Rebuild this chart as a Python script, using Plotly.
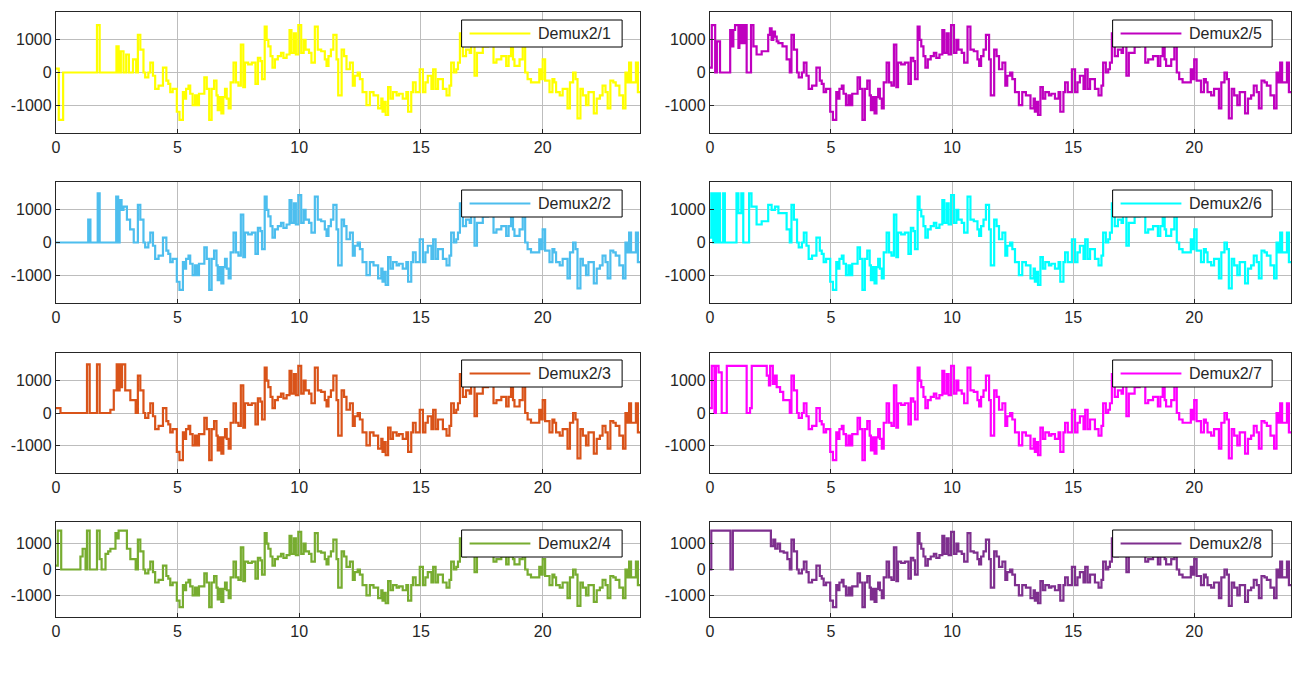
import plotly.graph_objects as go

# ---------------- data ----------------
NAMES = ["Demux2/1", "Demux2/2", "Demux2/3", "Demux2/4",
         "Demux2/5", "Demux2/6", "Demux2/7", "Demux2/8"]
COLORS = ["#FFFF00", "#4DBEEE", "#D95319", "#77AC30",
          "#BF00BF", "#00FFFF", "#FF00FF", "#7E2F8E"]

# start-up segments (differ per channel), change-point times and values
HEAD_T = [
    [0, 0.12, 0.30, 1.69, 1.80, 2.49, 2.58, 2.67, 2.78, 2.89, 3.00, 3.17, 3.30],
    [0, 1.33, 1.42, 1.72, 1.80, 2.48, 2.56, 2.62, 2.70, 2.78, 2.92, 3.05, 3.20],
    [0, 0.19, 1.28, 1.39, 1.69, 1.80, 2.24, 2.38, 2.50, 2.56, 2.62, 2.68, 2.72, 2.85, 3.06, 3.28],
    [0, 0.08, 0.22, 1.01, 1.10, 1.22, 1.28, 1.39, 1.69, 1.80, 1.88, 2.04, 2.15, 2.24, 2.45, 2.52, 2.58, 2.92, 3.06, 3.28],
    [0, 0.08, 0.22, 0.29, 0.42, 0.84, 0.90, 0.97, 1.04, 1.18, 1.22, 1.28, 1.32, 1.38, 1.45, 1.52, 1.70, 1.80, 1.93, 2.14, 2.41, 2.48, 2.55, 2.62, 2.69, 2.76, 2.83, 3.00, 3.17, 3.30],
    [0, 0.06, 0.14, 0.20, 0.28, 0.34, 0.42, 0.55, 0.62, 1.10, 1.18, 1.30, 1.38, 1.62, 1.72, 1.93, 2.14, 2.41, 2.55, 2.69, 2.83, 3.17, 3.30],
    [0, 0.08, 0.19, 0.25, 0.36, 0.49, 0.70, 1.52, 1.66, 1.73, 2.35, 2.44, 2.49, 2.60, 2.68, 2.76, 2.90, 3.03, 3.30],
    [0, 0.06, 0.85, 0.95, 2.52, 2.62, 2.70, 2.80, 2.90, 3.05, 3.20, 3.30],
]
HEAD_V = [
    [120, -1450, 0, 1450, 0, 800, 0, 650, 0, 550, 0, 400, 0],
    [0, 700, 0, 1500, 0, 1400, 0, 1300, 1000, 1100, 700, 400, 0],
    [150, 0, 1500, 0, 1500, 0, 100, 700, 1500, 700, 1500, 800, 1500, 700, 400, 0],
    [150, 1500, 0, 500, 800, 0, 1500, 0, 1500, 400, 0, 600, 700, 800, 1400, 1200, 1500, 800, 400, 0],
    [150, 1450, 0, 950, 0, 1300, 800, 1300, 1450, 750, 1450, 900, 1450, 900, 1450, 0, 1450, 800, 550, 650, 1150, 1350, 1000, 1250, 1100, 950, 900, 800, 400, 0],
    [150, 1500, 0, 1500, 0, 1500, 0, 1500, 0, 1500, 900, 1500, 0, 1500, 1100, 550, 650, 1150, 1000, 1100, 900, 400, 0],
    [150, 1450, 0, 1450, 1250, 0, 1450, 0, 150, 1450, 1150, 850, 1450, 900, 1150, 800, 650, 400, 0],
    [0, 1500, 0, 1500, 900, 1150, 800, 1000, 700, 650, 400, 0],
]

# common part of all channels (change-point times and values)
TAIL_T = [3.37, 3.47, 3.60, 3.67, 3.80, 3.88, 3.99, 4.08, 4.22, 4.40, 4.54, 4.62, 4.70, 4.80,
          4.97, 5.08, 5.22, 5.30, 5.35, 5.45, 5.52, 5.62, 5.72, 5.80, 5.88, 6.10, 6.20, 6.30,
          6.40, 6.50, 6.60, 6.65, 6.72, 6.80, 6.88, 6.95, 7.02, 7.10, 7.18, 7.30, 7.40, 7.50,
          7.60, 7.70, 7.77, 7.90, 8.05, 8.20, 8.30, 8.40, 8.47, 8.58, 8.66, 8.73, 8.82, 8.90,
          9.00, 9.12, 9.25, 9.35, 9.48, 9.60, 9.68, 9.78, 9.86, 9.96, 10.08, 10.18, 10.26,
          10.40, 10.50, 10.64, 10.76, 10.90, 11.05, 11.12, 11.20, 11.30, 11.40, 11.53, 11.60,
          11.74, 11.84, 11.94, 12.08, 12.20, 12.28, 12.40, 12.49, 12.60, 12.76, 12.90, 13.05,
          13.24, 13.37, 13.42, 13.50, 13.55, 13.65, 13.75, 13.85, 14.00, 14.10, 14.25, 14.40,
          14.47, 14.60, 14.67, 14.78, 14.95, 15.08, 15.18, 15.28, 15.43, 15.50, 15.60, 15.70,
          15.90, 16.05, 16.17, 16.24, 16.35, 16.45, 16.52, 16.60, 16.72, 16.85, 17.00, 17.06,
          17.20, 17.30, 17.54, 17.62, 17.75, 17.88, 17.98, 18.10, 18.30, 18.50, 18.60, 18.70,
          18.78, 18.84, 19.05, 19.18, 19.28, 19.38, 19.52, 19.86, 19.95, 20.00, 20.10, 20.28,
          20.40, 20.48, 20.55, 20.70, 20.82, 21.02, 21.12, 21.25, 21.35, 21.43, 21.55, 21.65,
          21.78, 21.88, 22.10, 22.22, 22.35, 22.46, 22.58, 22.67, 22.78, 22.90, 23.00, 23.15,
          23.30, 23.40, 23.48, 23.55, 23.63, 23.83, 23.91, 24.00]
TAIL_V = [1150, 700, 0, -150, 0, 300, -100, -500, -400, 150, -250, -350, -600, -500,
          -1200, -1450, -600, -800, -500, -400, -650, -1000, -700, -1000, -650, -150, -500, -1450,
          -500, -250, -700, -1150, -750, -1250, -750, -500, -800, -1100, -300, 300, -300, -400,
          850, -450, 300, 250, 300, -350, 450, 350, -200, 1400, 1000, 800, 500, 150,
          400, 500, 600, 450, 550, 1300, 600, 1200, 550, 1450, 600, 1000, 700,
          600, 300, 1400, 700, 650, 400, 200, 500, 700, 1150, 400, -700,
          700, 500, 100, 300, -400, -100, 0, -200, -600, -1000, -600, -700,
          -1100, -800, -1200, -900, -1300, -450, -800, -600, -700, -650, -800, -600,
          -1200, -600, -300, -600, 100, -600, -300, -100, -500, 100, -500, -200,
          -500, -700, -400, 300, 0, 100, 300, 1200, 500, 700, 600, 1200,
          -100, 600, 1000, 800, 1100, 900, 300, 400, 500, 200, 500, 1000,
          400, 200, 400, 1000, 0, -200, -300, 100, -200, 400, -250, -600,
          -200, -300, -600, -700, -500, -1100, -300, 0, -200, -1400, -500, -700,
          -1000, -600, -1250, -800, -700, -400, -600, -1100, -250, -300, -400, -700,
          -1100, 0, -300, 300, -300, 300, -600, -600]

X_TICKS = [0, 5, 10, 15, 20]
Y_TICKS = [-1000, 0, 1000]
Y_TICK_TEXT = ["-1000", "0", "1000"]

# ---------------- layout geometry (pixels) ----------------
W, H = 1316, 678
COL_X = [(52, 638), (708, 1291)]
ROW_Y = [(12, 133), (182, 303), (353, 473), (522, 617)]
LEG_X = [(459, 620), (1112, 1272)]
LEG_Y = [20, 190, 360, 530]
LEG_H = 27

FONT = "Liberation Sans, Arial, Helvetica, sans-serif"
AX = "#262626"

fig = go.Figure()
layout = dict(width=W, height=H, margin=dict(l=0, r=0, t=0, b=0),
              paper_bgcolor="white", plot_bgcolor="white",
              font=dict(family=FONT, size=16, color=AX), showlegend=False)
shapes = []
annotations = []


def px(x):
    return x / W


def py(y):
    return 1 - y / H


for i in range(8):
    col = i // 4
    row = i % 4
    n = i + 1
    sfx = "" if n == 1 else str(n)
    t = HEAD_T[i] + TAIL_T
    v = HEAD_V[i] + TAIL_V
    fig.add_trace(go.Scatter(x=t, y=v, mode="lines", name=NAMES[i],
                             line=dict(color=COLORS[i], width=2.2, shape="hv"),
                             xaxis="x" + sfx, yaxis="y" + sfx))
    x0, x1 = COL_X[col]
    y0, y1 = ROW_Y[row]
    yr = 1830 if row == 3 else 1850
    common = dict(showline=True, mirror=True, linecolor=AX, linewidth=1,
                  showgrid=True, gridcolor="#bdbdbd", gridwidth=1,
                  zeroline=False, ticks="inside", ticklen=4, tickcolor=AX,
                  tickfont=dict(family=FONT, size=16, color=AX))
    layout["xaxis" + sfx] = dict(common, domain=[px(x0), px(x1)], range=[0, 24],
                                 tickvals=X_TICKS, anchor="y" + sfx)
    layout["yaxis" + sfx] = dict(common, domain=[py(y1), py(y0)],
                                 range=[-yr, yr], tickvals=Y_TICKS,
                                 ticktext=Y_TICK_TEXT, anchor="x" + sfx)

    # legend box for this panel
    lx0, lx1 = LEG_X[col]
    ly0 = LEG_Y[row]
    ly1 = ly0 + LEG_H
    ym = (ly0 + ly1) / 2
    shapes.append(dict(type="rect", xref="paper", yref="paper",
                       x0=px(lx0), x1=px(lx1), y0=py(ly1), y1=py(ly0),
                       fillcolor="white", line=dict(color="#000000", width=1),
                       layer="above"))
    shapes.append(dict(type="line", xref="paper", yref="paper",
                       x0=px(lx0 + 8), x1=px(lx0 + 69), y0=py(ym), y1=py(ym),
                       line=dict(color=COLORS[i], width=2), layer="above"))
    annotations.append(dict(xref="paper", yref="paper", x=px(lx0 + 75), y=py(ym),
                            xanchor="left", yanchor="middle", showarrow=False,
                            text=NAMES[i], font=dict(family=FONT, size=16, color=AX)))

layout["shapes"] = shapes
layout["annotations"] = annotations
fig.update_layout(**layout)
fig.write_html("out.html", config={"displayModeBar": False},
               post_script="document.body.style.margin='0px';"
                           "document.body.style.overflow='hidden';")
